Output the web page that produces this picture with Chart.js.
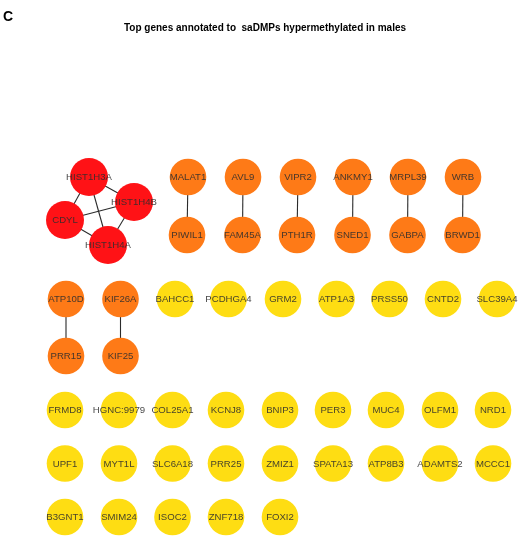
<!DOCTYPE html>
<html>
<head>
<meta charset="utf-8">
<script src="https://cdn.jsdelivr.net/npm/chart.js@4/dist/chart.umd.min.js"></script>
<style>
  html, body { margin: 0; padding: 0; background: #ffffff; }
  #wrap { width: 518px; height: 540px; }
</style>
</head>
<body>
<div id="wrap"><canvas id="net" width="518" height="540"></canvas></div>
<script>
// Gene network: node names, cluster group and layout coordinates
const panelLetter = 'C';
const chartTitle = 'Top genes annotated to  saDMPs hypermethylated in males';

const geneNames = [
  'HIST1H3A', 'HIST1H4B', 'CDYL', 'HIST1H4A',
  'MALAT1', 'PIWIL1', 'AVL9', 'FAM45A', 'VIPR2', 'PTH1R',
  'ANKMY1', 'SNED1', 'MRPL39', 'GABPA', 'WRB', 'BRWD1',
  'ATP10D', 'PRR15', 'KIF26A', 'KIF25',
  'BAHCC1', 'PCDHGA4', 'GRM2', 'ATP1A3', 'PRSS50', 'CNTD2', 'SLC39A4',
  'FRMD8', 'HGNC:9979', 'COL25A1', 'KCNJ8', 'BNIP3', 'PER3', 'MUC4', 'OLFM1', 'NRD1',
  'UPF1', 'MYT1L', 'SLC6A18', 'PRR25', 'ZMIZ1', 'SPATA13', 'ATP8B3', 'ADAMTS2', 'MCCC1',
  'B3GNT1', 'SMIM24', 'ISOC2', 'ZNF718', 'FOXI2'
];

// 0 = four-gene cluster, 1 = connected pairs, 2 = unconnected genes
const geneGroup = [
  0, 0, 0, 0,
  1, 1, 1, 1, 1, 1,
  1, 1, 1, 1, 1, 1,
  1, 1, 1, 1,
  2, 2, 2, 2, 2, 2, 2,
  2, 2, 2, 2, 2, 2, 2, 2, 2,
  2, 2, 2, 2, 2, 2, 2, 2, 2,
  2, 2, 2, 2, 2
];

// Layout position of each node (network layout units)
const layoutX = [
  89, 134, 65, 108,
  188, 187, 243, 242.5, 298, 297, 353, 352.5, 408, 407.5, 463, 462.5,
  66, 66, 120.5, 120.5,
  175, 228.5, 283, 336.5, 389.5, 443, 497,
  65, 119, 172.5, 226, 280, 333, 386, 440, 493,
  65, 119, 172.5, 226, 280, 333, 386, 440, 493,
  65, 119, 172.5, 226, 280
];
const layoutY = [
  177, 202, 220, 245,
  177, 235, 177, 235, 177, 235, 177, 235, 177, 235, 177, 235,
  299, 356, 299, 356,
  299, 299, 299, 299, 299, 299, 299,
  410, 410, 410, 410, 410, 410, 410, 410, 410,
  463.5, 463.5, 463.5, 463.5, 463.5, 463.5, 463.5, 463.5, 463.5,
  517, 517, 517, 517, 517
];

// Interactions (pairs of gene names)
const edgeFrom = ['HIST1H3A', 'HIST1H3A', 'HIST1H3A', 'CDYL', 'CDYL', 'HIST1H4B',
                  'MALAT1', 'AVL9', 'VIPR2', 'ANKMY1', 'MRPL39', 'WRB', 'ATP10D', 'KIF26A'];
const edgeTo   = ['CDYL', 'HIST1H4B', 'HIST1H4A', 'HIST1H4B', 'HIST1H4A', 'HIST1H4A',
                  'PIWIL1', 'FAM45A', 'PTH1R', 'SNED1', 'GABPA', 'BRWD1', 'PRR15', 'KIF25'];

const groupColors = ['#ff1216', '#fe7a17', '#fedd13'];
const groupRadius = [19, 18.3, 18.3];

// ---- datasets ----
const pos = {};
geneNames.forEach((g, i) => { pos[g] = { x: layoutX[i], y: layoutY[i] }; });

const edgeSets = edgeFrom.map((a, i) => ({
  type: 'line',
  label: a + '-' + edgeTo[i],
  data: [pos[a], pos[edgeTo[i]]],
  borderColor: '#2b2b2b',
  borderWidth: 1.1,
  pointRadius: 0,
  pointHoverRadius: 0,
  fill: false,
  order: 5
}));

const nodeSets = [0, 1, 2].map(gr => {
  const pts = [];
  geneNames.forEach((g, i) => {
    if (geneGroup[i] === gr) pts.push({ x: layoutX[i], y: layoutY[i], name: g });
  });
  return {
    type: 'scatter',
    label: 'group' + gr,
    data: pts,
    backgroundColor: groupColors[gr],
    borderWidth: 0,
    pointRadius: groupRadius[gr],
    pointHoverRadius: groupRadius[gr],
    order: 1
  };
});

// Node labels and heading text
const labelPlugin = {
  id: 'nodeLabels',
  afterDatasetsDraw(chart) {
    const ctx = chart.ctx;
    ctx.save();
    ctx.textAlign = 'center';
    ctx.textBaseline = 'middle';
    ctx.font = '9.6px "Liberation Sans", Arial, sans-serif';
    ctx.fillStyle = 'rgba(45,45,45,0.88)';
    chart.data.datasets.forEach((ds, di) => {
      if (ds.type !== 'scatter') return;
      const meta = chart.getDatasetMeta(di);
      meta.data.forEach((el, k) => {
        ctx.fillText(ds.data[k].name, el.x, el.y + 0.5);
      });
    });
    ctx.fillStyle = '#000000';
    ctx.textAlign = 'left';
    ctx.font = 'bold 14px "Liberation Sans", Arial, sans-serif';
    ctx.fillText(panelLetter, 3, 17);
    ctx.textAlign = 'center';
    ctx.font = 'bold 10px "Liberation Sans", Arial, sans-serif';
    ctx.fillText(chartTitle, 265, 28.5);
    ctx.restore();
  }
};

new Chart(document.getElementById('net'), {
  data: { datasets: [...edgeSets, ...nodeSets] },
  options: {
    responsive: false,
    animation: false,
    layout: { padding: 0, autoPadding: false },
    plugins: { legend: { display: false }, tooltip: { enabled: false }, title: { display: false } },
    events: [],
    scales: {
      x: { type: 'linear', min: 0, max: 518, display: false },
      y: { type: 'linear', min: 0, max: 540, reverse: true, display: false }
    }
  },
  plugins: [labelPlugin]
});
</script>
</body>
</html>
